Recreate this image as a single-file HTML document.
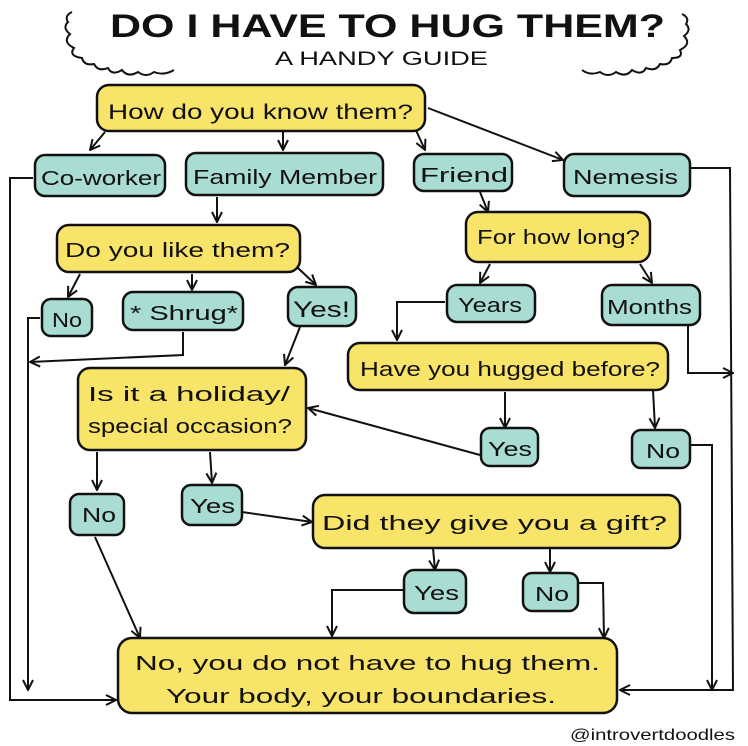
<!DOCTYPE html>
<html><head><meta charset="utf-8"><style>
html,body{margin:0;padding:0;background:#fff;}
svg{display:block;}
text{font-family:"Liberation Sans",sans-serif;fill:#111;}
.y{fill:#f9e46a;stroke:#111;stroke-width:2.5;}
.t{fill:#a9dcd3;stroke:#111;stroke-width:2.5;}
.l{fill:none;stroke:#111;stroke-width:2;}
</style></head><body>
<svg width="748" height="746" viewBox="0 0 748 746" xmlns="http://www.w3.org/2000/svg">
<defs><marker id="a" viewBox="0 0 12 12" refX="11" refY="6" markerWidth="12" markerHeight="12" markerUnits="userSpaceOnUse" orient="auto"><path d="M1,1 L11,6 L1,11" fill="none" stroke="#111" stroke-width="2"/></marker></defs>
<!-- clouds -->
<path class="l" stroke-width="1.6" d="M72,12 q-8,4 -4,10 q-6,6 2,12 q-8,8 4,14 q-6,8 8,10 q2,8 12,6 q4,8 14,4 q4,8 14,2 q6,8 16,2 q8,6 16,0 q10,4 20,-2"/>
<path class="l" stroke-width="1.6" d="M682,14 q8,4 4,10 q6,6 -2,12 q8,8 -4,14 q4,8 -8,8 q-2,8 -12,6 q-4,8 -14,4 q-4,8 -14,2 q-6,8 -16,2 q-8,6 -16,0 q-10,4 -18,-2"/>
<text x="110" y="37" font-size="32" font-weight="bold" textLength="555" lengthAdjust="spacingAndGlyphs">DO I HAVE TO HUG THEM?</text>
<text x="275" y="65" font-size="19" textLength="213" lengthAdjust="spacingAndGlyphs">A HANDY GUIDE</text>
<!-- connectors -->
<path class="l" d="M105,132 L90,150" marker-end="url(#a)"/>
<path class="l" d="M283,132 L283,150" marker-end="url(#a)"/>
<path class="l" d="M415,128 L425,150" marker-end="url(#a)"/>
<path class="l" d="M428,108 L563,160" marker-end="url(#a)"/>
<path class="l" d="M33,178 L10,178 L10,700 L116,700" marker-end="url(#a)"/>
<path class="l" d="M690,168 L730,168 L733,690 L620,690" marker-end="url(#a)"/>
<path class="l" d="M217,197 L217,222" marker-end="url(#a)"/>
<path class="l" d="M480,192 L488,212" marker-end="url(#a)"/>
<path class="l" d="M80,274 L68,297" marker-end="url(#a)"/>
<path class="l" d="M192,274 L192,290" marker-end="url(#a)"/>
<path class="l" d="M298,268 L316,285" marker-end="url(#a)"/>
<path class="l" d="M490,264 L480,283" marker-end="url(#a)"/>
<path class="l" d="M640,264 L652,283" marker-end="url(#a)"/>
<path class="l" d="M40,318 L28,318 L28,690" marker-end="url(#a)"/>
<path class="l" d="M183,332 L183,355 L30,362" marker-end="url(#a)"/>
<path class="l" d="M300,327 L285,365" marker-end="url(#a)"/>
<path class="l" d="M445,302 L397,302 L397,340" marker-end="url(#a)"/>
<path class="l" d="M688,325 L688,373 L733,373" marker-end="url(#a)"/>
<path class="l" d="M505,392 L505,428" marker-end="url(#a)"/>
<path class="l" d="M653,390 L655,428" marker-end="url(#a)"/>
<path class="l" d="M690,445 L712,445 L712,690" marker-end="url(#a)"/>
<path class="l" d="M480,455 L308,408" marker-end="url(#a)"/>
<path class="l" d="M97,452 L97,490" marker-end="url(#a)"/>
<path class="l" d="M210,452 L212,483" marker-end="url(#a)"/>
<path class="l" d="M242,512 L312,522" marker-end="url(#a)"/>
<path class="l" d="M95,537 L140,638" marker-end="url(#a)"/>
<path class="l" d="M433,548 L435,570" marker-end="url(#a)"/>
<path class="l" d="M550,548 L550,572" marker-end="url(#a)"/>
<path class="l" d="M403,590 L332,590 L332,636" marker-end="url(#a)"/>
<path class="l" d="M578,583 L603,583 L604,638" marker-end="url(#a)"/>
<!-- boxes -->
<rect class="y" x="97" y="85" width="328" height="46" rx="12"/>
<text x="108" y="119" font-size="21" textLength="305" lengthAdjust="spacingAndGlyphs">How do you know them?</text>
<rect class="t" x="35" y="155" width="130" height="41" rx="10"/>
<text x="41" y="185" font-size="20" textLength="120" lengthAdjust="spacingAndGlyphs">Co-worker</text>
<rect class="t" x="186" y="153" width="197" height="42" rx="10"/>
<text x="193" y="184" font-size="20" textLength="184" lengthAdjust="spacingAndGlyphs">Family Member</text>
<rect class="t" x="414" y="154" width="98" height="37" rx="10"/>
<text x="420" y="182" font-size="20" textLength="88" lengthAdjust="spacingAndGlyphs">Friend</text>
<rect class="t" x="564" y="154" width="126" height="42" rx="10"/>
<text x="573" y="184" font-size="20" textLength="105" lengthAdjust="spacingAndGlyphs">Nemesis</text>
<rect class="y" x="57" y="225" width="243" height="47" rx="12"/>
<text x="65" y="257" font-size="20" textLength="225" lengthAdjust="spacingAndGlyphs">Do you like them?</text>
<rect class="y" x="466" y="212" width="184" height="50" rx="12"/>
<text x="477" y="244" font-size="20" textLength="163" lengthAdjust="spacingAndGlyphs">For how long?</text>
<rect class="t" x="42" y="299" width="50" height="37" rx="9"/>
<text x="52" y="327" font-size="20" textLength="30" lengthAdjust="spacingAndGlyphs">No</text>
<rect class="t" x="123" y="292" width="120" height="38" rx="10"/>
<text x="130" y="320" font-size="20" textLength="108" lengthAdjust="spacingAndGlyphs">* Shrug*</text>
<rect class="t" x="288" y="287" width="68" height="39" rx="10"/>
<text x="293" y="317" font-size="22" textLength="57" lengthAdjust="spacingAndGlyphs">Yes!</text>
<rect class="t" x="447" y="285" width="88" height="37" rx="10"/>
<text x="458" y="312" font-size="20" textLength="64" lengthAdjust="spacingAndGlyphs">Years</text>
<rect class="t" x="602" y="285" width="98" height="40" rx="10"/>
<text x="607" y="314" font-size="20" textLength="85" lengthAdjust="spacingAndGlyphs">Months</text>
<rect class="y" x="348" y="343" width="320" height="47" rx="12"/>
<text x="360" y="376" font-size="20" textLength="300" lengthAdjust="spacingAndGlyphs">Have you hugged before?</text>
<rect class="y" x="78" y="368" width="228" height="82" rx="12"/>
<text x="88" y="401" font-size="20" textLength="202" lengthAdjust="spacingAndGlyphs">Is it a holiday/</text>
<text x="88" y="433" font-size="20" textLength="204" lengthAdjust="spacingAndGlyphs">special occasion?</text>
<rect class="t" x="481" y="428" width="57" height="38" rx="9"/>
<text x="488" y="456" font-size="20" textLength="44" lengthAdjust="spacingAndGlyphs">Yes</text>
<rect class="t" x="632" y="430" width="58" height="38" rx="9"/>
<text x="646" y="458" font-size="20" textLength="34" lengthAdjust="spacingAndGlyphs">No</text>
<rect class="t" x="70" y="494" width="54" height="41" rx="9"/>
<text x="82" y="522" font-size="20" textLength="34" lengthAdjust="spacingAndGlyphs">No</text>
<rect class="t" x="182" y="485" width="60" height="40" rx="9"/>
<text x="190" y="513" font-size="20" textLength="45" lengthAdjust="spacingAndGlyphs">Yes</text>
<rect class="y" x="313" y="495" width="367" height="53" rx="12"/>
<text x="322" y="530" font-size="20" textLength="345" lengthAdjust="spacingAndGlyphs">Did they give you a gift?</text>
<rect class="t" x="404" y="570" width="62" height="43" rx="10"/>
<text x="414" y="600" font-size="20" textLength="45" lengthAdjust="spacingAndGlyphs">Yes</text>
<rect class="t" x="523" y="573" width="55" height="38" rx="9"/>
<text x="535" y="601" font-size="20" textLength="34" lengthAdjust="spacingAndGlyphs">No</text>
<rect class="y" x="118" y="638" width="499" height="75" rx="14"/>
<text x="135" y="670" font-size="20" textLength="465" lengthAdjust="spacingAndGlyphs">No, you do not have to hug them.</text>
<text x="166" y="703" font-size="20" textLength="390" lengthAdjust="spacingAndGlyphs">Your body, your boundaries.</text>
<text x="570" y="740" font-size="16" textLength="165" lengthAdjust="spacingAndGlyphs">@introvertdoodles</text>
</svg>
</body></html>
